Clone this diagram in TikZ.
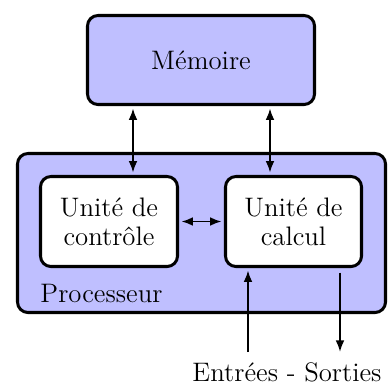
\documentclass[tikz,border=0pt]{standalone}
\usetikzlibrary{arrows.meta}
\begin{document}
\begin{tikzpicture}[x=0.43pt,y=-0.43pt,
  box/.style={draw,line width=1.3pt,rounded corners=4.5pt,inner sep=0pt,align=center,font=\fontsize{11.5}{12.5}\selectfont},
  lav/.style={fill=blue!25},
  wht/.style={fill=white},
  conn/.style={line width=0.85pt,>={Latex[length=5pt,width=3.8pt]}},
  lbl/.style={inner sep=0pt,font=\fontsize{11.5}{12.5}\selectfont}]
\useasboundingbox (0,0) rectangle (390,385);
\node[box,lav,minimum width=227*0.43pt,minimum height=89*0.43pt] (mem) at (201,60) {M\'emoire};
\node[box,lav,minimum width=368*0.43pt,minimum height=159*0.43pt] (proc) at (201.5,233) {};
\node[box,wht,minimum width=137*0.43pt,minimum height=90*0.43pt] (ctrl) at (109,221.5) {Unit\'e de\\contr\^ole};
\node[box,wht,minimum width=136*0.43pt,minimum height=90*0.43pt] (calc) at (293.5,221.5) {Unit\'e de\\calcul};
\node[lbl,anchor=west] (plabel) at (40,293) {Processeur};
\node[lbl] (io) at (287,372) {Entr\'ees - Sorties};
\coordinate (a1) at (133,0);
\coordinate (a2) at (270,0);
\coordinate (in) at (248,352);
\coordinate (out) at (340,352);
\draw[conn,<->,shorten <=1pt,shorten >=1pt] (mem.south -| a1) -- (ctrl.north -| a1);
\draw[conn,<->,shorten <=1pt,shorten >=1pt] (mem.south -| a2) -- (calc.north -| a2);
\draw[conn,<->,shorten <=1pt,shorten >=1pt] (ctrl.east) -- (calc.west);
\draw[conn,->,shorten >=1pt] (in) -- (calc.south -| in);
\draw[conn,->,shorten <=2pt] (calc.south -| out) -- (out);
\end{tikzpicture}
\end{document}
